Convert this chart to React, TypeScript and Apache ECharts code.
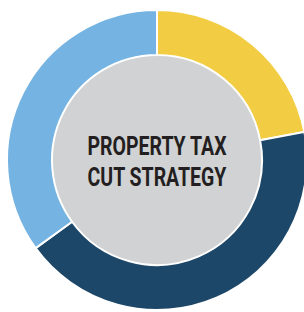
import React, { useEffect, useRef } from "react";
import * as echarts from "echarts";

const categories = ["Segment A", "Segment B", "Segment C"];
const values = [22, 43, 35];
const colors = ["#F2CD44", "#1D4768", "#74B3E2"];
const centerLines = ["PROPERTY TAX", "CUT STRATEGY"];

export default function App() {
  const ref = useRef<HTMLDivElement>(null);
  useEffect(() => {
    if (!ref.current) return;
    const chart = echarts.init(ref.current, null, { renderer: "svg" });
    chart.setOption({
      animation: false,
      graphic: [
        {
          type: "text",
          x: 157,
          y: 162,
          scaleX: 0.78,
          z: 100,
          style: {
            text: centerLines.join("\n"),
            fontFamily: "Roboto",
            fontWeight: "bold",
            fontSize: 25,
            lineHeight: 31,
            fill: "#231F20",
            align: "center",
            verticalAlign: "middle",
          },
        },
      ],
      series: [
        {
          type: "pie",
          center: [157, 160],
          radius: [0, 106],
          silent: true,
          label: { show: false },
          labelLine: { show: false },
          itemStyle: { color: "#D1D2D4" },
          data: [{ value: 1, name: "center" }],
        },
        {
          type: "pie",
          center: [157, 160],
          radius: [105, 150],
          startAngle: 90,
          clockwise: true,
          silent: true,
          label: { show: false },
          labelLine: { show: false },
          itemStyle: { borderColor: "#ffffff", borderWidth: 2 },
          data: categories.map((c, i) => ({
            name: c,
            value: values[i],
            itemStyle: { color: colors[i] },
          })),
        },
      ],
    });
    return () => chart.dispose();
  }, []);
  return (
    <div
      ref={ref}
      style={{ position: "fixed", left: 0, top: 0, width: 304, height: 312, background: "#fff" }}
    />
  );
}
